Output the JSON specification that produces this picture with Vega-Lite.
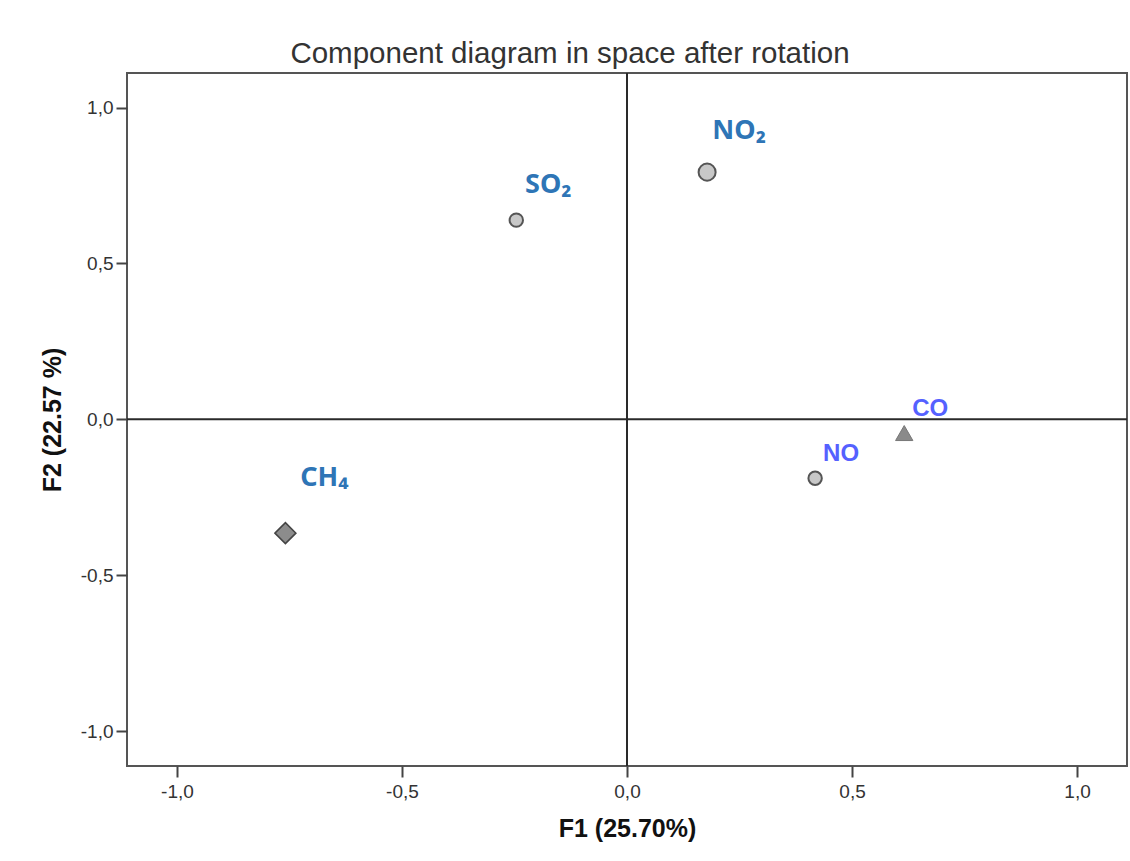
{
  "$schema": "https://vega.github.io/schema/vega-lite/v6.json",
  "width": 1000,
  "height": 693,
  "autosize": {"type": "none"},
  "padding": {"left": 127, "top": 73, "right": 3, "bottom": 95},
  "background": "white",
  "title": {
    "text": "Component diagram in space after rotation",
    "anchor": "middle",
    "dx": -57,
    "offset": -20,
    "baseline": "alphabetic",
    "font": "Liberation Sans",
    "fontSize": 29.5,
    "fontWeight": "normal",
    "color": "#333333"
  },
  "config": {
    "view": {"stroke": "#555555", "strokeWidth": 2},
    "axis": {
      "domain": false,
      "grid": false,
      "ticks": true,
      "tickSize": 11,
      "tickWidth": 2,
      "tickColor": "#444444",
      "labelFont": "Liberation Sans",
      "labelFontSize": 19,
      "labelColor": "#333333",
      "titleFont": "Liberation Sans",
      "titleFontSize": 25,
      "titleFontWeight": "bold",
      "titleColor": "#111111"
    }
  },
  "data": {
    "values": [
      {"variable": "SO₂", "F1": -0.246, "F2": 0.639},
      {"variable": "NO₂", "F1": 0.178, "F2": 0.793},
      {"variable": "CO", "F1": 0.616, "F2": -0.044},
      {"variable": "NO", "F1": 0.418, "F2": -0.189},
      {"variable": "CH₄", "F1": -0.759, "F2": -0.365}
    ]
  },
  "layer": [
    {
      "data": {"values": [{}]},
      "mark": {"type": "rule", "color": "#2a2a2a", "strokeWidth": 2},
      "encoding": {"x": {"datum": 0, "type": "quantitative"}}
    },
    {
      "data": {"values": [{}]},
      "mark": {"type": "rule", "color": "#2a2a2a", "strokeWidth": 2},
      "encoding": {"y": {"datum": 0, "type": "quantitative"}}
    },
    {
      "mark": {"type": "point", "filled": true, "opacity": 1},
      "encoding": {
        "x": {
          "field": "F1",
          "type": "quantitative",
          "scale": {"domain": [-1.111, 1.111], "nice": false, "zero": false},
          "axis": {
            "title": "F1 (25.70%)",
            "values": [-1, -0.5, 0, 0.5, 1],
            "labelExpr": "replace(replace(format(datum.value, '.1f'), '.', ','), '−', '-')",
            "labelPadding": 5,
            "titlePadding": 15
          }
        },
        "y": {
          "field": "F2",
          "type": "quantitative",
          "scale": {"domain": [-1.112, 1.111], "nice": false, "zero": false},
          "axis": {
            "title": "F2 (22.57 %)",
            "values": [-1, -0.5, 0, 0.5, 1],
            "labelExpr": "replace(replace(format(datum.value, '.1f'), '.', ','), '−', '-')",
            "labelPadding": 3,
            "titlePadding": 15
          }
        },
        "shape": {
          "field": "variable",
          "type": "nominal",
          "scale": {
            "type": "ordinal",
            "domain": ["SO₂", "NO₂", "CO", "NO", "CH₄"],
            "range": ["circle", "circle", "triangle-up", "circle", "diamond"]
          },
          "legend": null
        },
        "size": {
          "field": "variable",
          "type": "nominal",
          "scale": {
            "type": "ordinal",
            "domain": ["SO₂", "NO₂", "CO", "NO", "CH₄"],
            "range": [180, 290, 300, 180, 440]
          },
          "legend": null
        },
        "fill": {
          "field": "variable",
          "type": "nominal",
          "scale": {
            "type": "ordinal",
            "domain": ["SO₂", "NO₂", "CO", "NO", "CH₄"],
            "range": ["#c8c8c8", "#c8c8c8", "#8a8a8a", "#c8c8c8", "#8c8c8c"]
          },
          "legend": null
        },
        "stroke": {
          "field": "variable",
          "type": "nominal",
          "scale": {
            "type": "ordinal",
            "domain": ["SO₂", "NO₂", "CO", "NO", "CH₄"],
            "range": ["#555555", "#555555", "#777777", "#555555", "#444444"]
          },
          "legend": null
        },
        "strokeWidth": {
          "field": "variable",
          "type": "nominal",
          "scale": {
            "type": "ordinal",
            "domain": ["SO₂", "NO₂", "CO", "NO", "CH₄"],
            "range": [2, 2, 1, 2, 1.5]
          },
          "legend": null
        }
      }
    },
    {
      "transform": [{"filter": "datum.variable === 'SO₂'"}],
      "mark": {"type": "text", "font": "Noto Sans", "fontSize": 27, "fontWeight": "bold", "color": "#2e75b6", "align": "center", "baseline": "alphabetic", "dx": 32, "dy": -27},
      "encoding": {
        "x": {"field": "F1", "type": "quantitative"},
        "y": {"field": "F2", "type": "quantitative"},
        "text": {"field": "variable"}
      }
    },
    {
      "transform": [{"filter": "datum.variable === 'NO₂'"}],
      "mark": {"type": "text", "font": "Noto Sans", "fontSize": 27, "fontWeight": "bold", "color": "#2e75b6", "align": "center", "baseline": "alphabetic", "dx": 32, "dy": -33},
      "encoding": {
        "x": {"field": "F1", "type": "quantitative"},
        "y": {"field": "F2", "type": "quantitative"},
        "text": {"field": "variable"}
      }
    },
    {
      "transform": [{"filter": "datum.variable === 'CH₄'"}],
      "mark": {"type": "text", "font": "Noto Sans", "fontSize": 27, "fontWeight": "bold", "color": "#2e75b6", "align": "center", "baseline": "alphabetic", "dx": 39, "dy": -47},
      "encoding": {
        "x": {"field": "F1", "type": "quantitative"},
        "y": {"field": "F2", "type": "quantitative"},
        "text": {"field": "variable"}
      }
    },
    {
      "transform": [{"filter": "datum.variable === 'CO' || datum.variable === 'NO'"}],
      "mark": {"type": "text", "font": "Liberation Sans", "fontSize": 24, "fontWeight": "bold", "color": "#5561ff", "align": "center", "baseline": "alphabetic", "dx": 26, "dy": -17},
      "encoding": {
        "x": {"field": "F1", "type": "quantitative"},
        "y": {"field": "F2", "type": "quantitative"},
        "text": {"field": "variable"}
      }
    }
  ]
}
